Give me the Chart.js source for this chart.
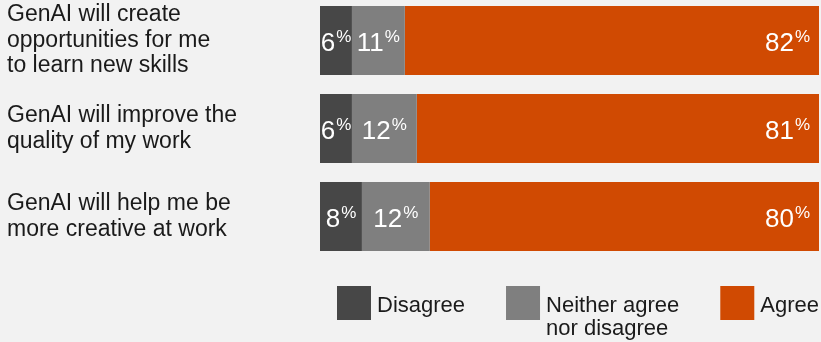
<!DOCTYPE html>
<html>
<head>
<meta charset="utf-8">
<script src="https://cdn.jsdelivr.net/npm/chart.js@4.4.1/dist/chart.umd.min.js"></script>
<style>
    html, body { margin: 0; padding: 0; background: #f2f2f2; overflow: hidden; }
    /* canvas is 4px taller and pulled up so the first bar sits near the top */
    #wrap { width: 821px; height: 346px; position: relative; margin-top: -4px; }
</style>
</head>
<body>
<div id="wrap"><canvas id="chart"></canvas></div>
<script>
const FONT = '"Liberation Sans", Arial, Helvetica, sans-serif';

// categories (y axis)
const categories = [
    ['GenAI will create', 'opportunities for me', 'to learn new skills'],
    ['GenAI will improve the', 'quality of my work'],
    ['GenAI will help me be', 'more creative at work']
];

// series names and colours
const seriesNames = ['Disagree', 'Neither agree\nnor disagree', 'Agree'];
const seriesColors = ['#474747', '#7f7f7f', '#d04a02'];

// bar lengths as drawn (share of the full bar)
const disagreeValues = [6.4, 6.4, 8.4];
const neutralValues = [10.6, 13.0, 13.6];
const agreeValues = [83.0, 80.6, 78.0];

// printed percentages
const disagreeLabels = [6, 6, 8];
const neutralLabels = [11, 12, 12];
const agreeLabels = [82, 81, 80];

// white numbers with small raised % inside each segment
const valueLabels = {
    id: 'valueLabels',
    afterDatasetsDraw(chart) {
        const ctx = chart.ctx;
        chart.data.datasets.forEach((ds, di) => {
            const meta = chart.getDatasetMeta(di);
            meta.data.forEach((bar, i) => {
                const num = String(ds.shown[i]);
                ctx.save();
                ctx.fillStyle = '#ffffff';
                ctx.textAlign = 'left';
                ctx.textBaseline = 'alphabetic';
                ctx.font = '26px ' + FONT;
                const numW = ctx.measureText(num).width;
                ctx.font = '17px ' + FONT;
                const pctW = ctx.measureText('%').width;
                const total = numW + 1 + pctW;
                const left = Math.min(bar.base, bar.x);
                const right = Math.max(bar.base, bar.x);
                let x;
                if (di === 2) {
                    x = right - 9 - total; // agree labels sit at the right end
                } else {
                    x = (left + right) / 2 - total / 2;
                }
                ctx.font = '26px ' + FONT;
                ctx.fillText(num, x, bar.y + 10.5);
                ctx.font = '17px ' + FONT;
                ctx.fillText('%', x + numW + 1, bar.y + 1);
                ctx.restore();
            });
        });
    }
};

// legend under the bars, spread across the bar width
const bottomLegend = {
    id: 'bottomLegend',
    afterDraw(chart) {
        const ctx = chart.ctx;
        const area = chart.chartArea;
        const box = 34, gapText = 6, lineH = 23;
        ctx.save();
        ctx.font = '22px ' + FONT;
        const items = chart.data.datasets.map(ds => {
            const lines = ds.label.split('\n');
            const w = Math.max(...lines.map(l => ctx.measureText(l).width));
            return { lines: lines, w: w, color: ds.backgroundColor };
        });
        const startX = area.left + 17;
        const endX = area.right;
        const used = items.reduce((s, it) => s + box + gapText + it.w, 0);
        const gap = (endX - startX - used) / (items.length - 1);
        const top = area.bottom + 25.5;
        let x = startX;
        items.forEach(it => {
            ctx.fillStyle = it.color;
            ctx.fillRect(x, top, box, box);
            ctx.fillStyle = '#1a1a1a';
            ctx.textAlign = 'left';
            ctx.textBaseline = 'alphabetic';
            it.lines.forEach((l, k) => ctx.fillText(l, x + box + gapText, top + 26 + k * lineH));
            x += box + gapText + it.w + gap;
        });
        ctx.restore();
    }
};

const allValues = [disagreeValues, neutralValues, agreeValues];
const allLabels = [disagreeLabels, neutralLabels, agreeLabels];

const datasets = seriesNames.map((name, k) => ({
    label: name,
    data: allValues[k],
    shown: allLabels[k],
    backgroundColor: seriesColors[k],
    borderWidth: 0,
    barPercentage: 1,
    categoryPercentage: 69 / 88
}));

new Chart(document.getElementById('chart'), {
    type: 'bar',
    data: { labels: categories, datasets: datasets },
    plugins: [valueLabels, bottomLegend],
    options: {
        indexAxis: 'y',
        responsive: true,
        maintainAspectRatio: false,
        animation: false,
        layout: { padding: { left: 7, right: 2, top: 0.5, bottom: 81.5 } },
        plugins: {
            legend: { display: false },
            tooltip: { enabled: false }
        },
        scales: {
            x: { stacked: true, min: 0, max: 100, display: false },
            y: {
                stacked: true,
                grid: { display: false },
                border: { display: false },
                ticks: {
                    crossAlign: 'far',
                    color: '#1a1a1a',
                    font: { family: FONT, size: 23, lineHeight: '25.5px' }
                },
                afterFit: scale => {
                    scale.width = 313;
                    // labels may overhang the plot, do not let them shrink it
                    scale.paddingTop = 0;
                    scale.paddingBottom = 0;
                }
            }
        }
    }
});
</script>
</body>
</html>
